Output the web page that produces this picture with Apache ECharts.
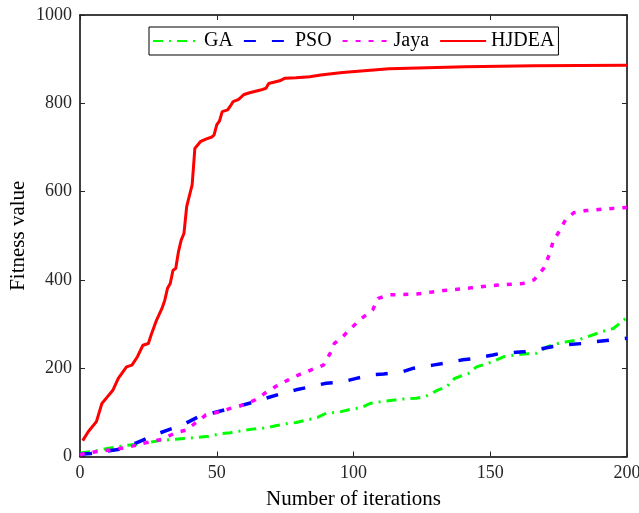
<!DOCTYPE html>
<html>
<head>
<meta charset="utf-8">
<script src="https://cdn.jsdelivr.net/npm/echarts@6/dist/echarts.min.js"></script>
<style>html,body{margin:0;padding:0;background:#fff}#c{width:639px;height:513px}</style>
</head>
<body>
<div id="c"></div>
<script>
var seriesNames = ['GA', 'PSO', 'Jaya', 'HJDEA'];
var xTicks = [0, 50, 100, 150, 200];
var yTicks = [0, 200, 400, 600, 800, 1000];

var gaIter = [0,5,10,17,21,29,35,38,43,47,51,55,59,63,68,72,76,79,84,87,90,95,99,103,106,110,115,118,123,126,131,134,137,142,145,151,155,159,162,167,171,174,178,182,185,191,195,200];
var gaVal  = [8,12,18,25,28,36,39,41,43,46,51,54,58,62,65,70,75,77,84,89,98,101,107,111,120,124,128,130,132,135,151,158,177,188,203,215,226,230,232,234,249,255,260,264,270,283,290,315];

var psoIter = [0,4,15,23,26,33,37,43,47,55,64,68,75,79,85,90,96,101,107,111,118,122,129,133,140,144,151,154,162,166,173,177,184,188,195,200];
var psoVal  = [5,7,17,37,46,62,70,89,96,109,124,132,145,151,159,166,169,177,185,187,192,200,207,211,219,222,230,234,237,241,249,253,256,260,264,268];

var jayaIter = [0,1,7,12,18,21,26,30,35,39,42,46,51,56,60,64,68,72,76,80,89,91.5,93,96,99,103,107,109,113,123,133,143,152,162,166,169.5,171.5,173,175.5,177.5,180.5,185,195,200];
var jayaVal  = [3,6,12,15,22,26,34,39,54,60,75,94,101,111,117,128,145,160,173,185,207,234,256,271,290,313,332,358,366,368,376,382,388,392,400,426,456,487,513,536,552,557,562,564];

var hjIter = [1,3,6,8,10,12,14,17,19,21,23,25,26,28,30,31,32,33,34,35,36,37,38,39,41,42,44,46,48,49,50,51,52,54,55,56,58,60,62,66,68,69,73,75,79,84,88,96,113,141,166,200];
var hjVal  = [36,56,79,120,135,150,177,203,207,226,252,256,275,309,336,354,381,392,422,426,464,490,505,566,615,698,713,719,723,728,751,760,781,785,794,804,809,820,824,830,834,845,851,857,858,860,864,870,878,883,885,886];

function pairs(xs, ys) { return xs.map(function (x, i) { return [x, ys[i]]; }); }

var FONT = 'Liberation Serif, Times New Roman, serif';
var chart = echarts.init(document.getElementById('c'), null, {renderer: 'canvas'});

function axisBase(extra) {
  var a = {
    type: 'value',
    axisLine: {show: true, onZero: false, lineStyle: {color: '#000', width: 1.5}},
    axisTick: {show: true, inside: true, length: 5, lineStyle: {color: '#262626', width: 1}},
    splitLine: {show: false}
  };
  for (var k in extra) a[k] = extra[k];
  return a;
}
function plain(v) { return String(v); }

var option = {
  animation: false,
  backgroundColor: '#fff',
  grid: {left: 80, right: 12, top: 15, bottom: 56.5, containLabel: false, outerBoundsMode: 'none'},
  legend: {
    data: seriesNames,
    left: 149, top: 27,
    orient: 'horizontal',
    itemWidth: 46, itemHeight: 14, itemGap: 10,
    padding: [4, 4, 4, 3],
    borderColor: '#000', borderWidth: 1,
    backgroundColor: '#fff',
    itemStyle: {opacity: 0},
    textStyle: {fontFamily: FONT, fontSize: 20, color: '#000'}
  },
  xAxis: [
    axisBase({
      min: xTicks[0], max: xTicks[xTicks.length - 1], interval: 50, position: 'bottom',
      name: 'Number of iterations', nameLocation: 'middle', nameGap: 32,
      nameTextStyle: {fontFamily: FONT, fontSize: 21, color: '#000'},
      axisLabel: {fontFamily: FONT, fontSize: 18, color: '#262626', margin: 8, formatter: plain}
    }),
    axisBase({
      min: xTicks[0], max: xTicks[xTicks.length - 1], interval: 50, position: 'top',
      axisLabel: {show: false}
    })
  ],
  yAxis: [
    axisBase({
      min: yTicks[0], max: yTicks[yTicks.length - 1], interval: 200, position: 'left',
      name: 'Fitness value', nameLocation: 'middle', nameGap: 51, nameRotate: 90, nameMoveOverlap: false,
      nameTextStyle: {fontFamily: FONT, fontSize: 21, color: '#000'},
      axisLabel: {fontFamily: FONT, fontSize: 18, color: '#262626', margin: 8, formatter: plain}
    }),
    axisBase({
      min: yTicks[0], max: yTicks[yTicks.length - 1], interval: 200, position: 'right',
      axisLabel: {show: false}
    })
  ],
  series: [
    {name: 'GA', type: 'line', data: pairs(gaIter, gaVal), symbol: 'none', showSymbol: false,
     lineStyle: {color: '#00ff00', width: 3, type: [10, 6, 2, 6]}, itemStyle: {color: '#00ff00'}},
    {name: 'PSO', type: 'line', data: pairs(psoIter, psoVal), symbol: 'none', showSymbol: false,
     lineStyle: {color: '#0000ff', width: 3.5, type: [12, 16]}, itemStyle: {color: '#0000ff'}},
    {name: 'Jaya', type: 'line', data: pairs(jayaIter, jayaVal), symbol: 'none', showSymbol: false,
     lineStyle: {color: '#ff00ff', width: 3.5, type: [5, 8]}, itemStyle: {color: '#ff00ff'}},
    {name: 'HJDEA', type: 'line', data: pairs(hjIter, hjVal), symbol: 'none', showSymbol: false,
     lineStyle: {color: '#ff0000', width: 3, type: 'solid'}, itemStyle: {color: '#ff0000'}}
  ]
};
chart.setOption(option);
</script>
</body>
</html>
